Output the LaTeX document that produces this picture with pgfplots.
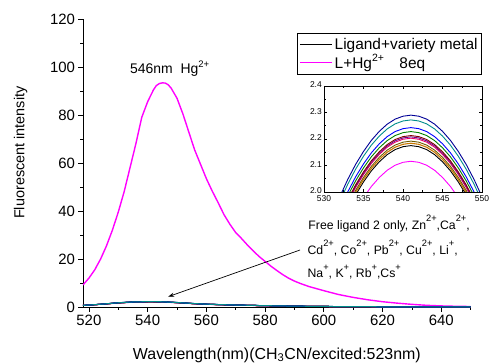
\documentclass[border=0pt]{standalone}
\usepackage{fontspec}
\setmainfont{Liberation Sans}
\usepackage{graphicx}
\usepackage{pgfplots}
\pgfplotsset{compat=1.18}
\usepackage{pgfplotstable}
\usetikzlibrary{arrows.meta}

\definecolor{cnavy}{RGB}{0,0,150}
\definecolor{cteal}{RGB}{0,140,140}
\definecolor{cblue}{RGB}{0,0,255}
\definecolor{cgreen}{RGB}{0,128,0}
\definecolor{cwine}{RGB}{128,0,0}
\definecolor{cpurple}{RGB}{110,0,140}
\definecolor{ccrimson}{RGB}{230,0,100}
\definecolor{colive}{RGB}{110,90,0}
\definecolor{corange}{RGB}{200,120,0}
\definecolor{cmag}{RGB}{255,0,255}

\newcommand{\su}[1]{\raisebox{0.42em}{\scalebox{0.68}{#1}}}
\newcommand{\suu}[1]{\raisebox{0.62em}{\scalebox{0.76}{#1}}}

\pgfplotstableread{
x y
518 9.2
520 12.0
522 15.5
524 20.0
526 25.5
528 32.0
530 39.5
532 48.0
534 58.0
536 68.0
538 79.0
540 85.5
542 90.5
543 92.3
544 93.1
545 93.4
546 93.3
547 92.6
548 91.2
550 87.0
552 80.5
554 73.0
556 65.5
558 59.5
560 53.5
562 48.3
564 43.5
566 38.5
568 34.5
570 31.0
572 28.5
574 25.8
576 23.3
578 21.0
580 19.0
582 17.0
584 15.2
586 13.5
588 12.0
590 10.8
592 9.8
595 8.5
600 6.8
605 5.2
610 4.0
615 3.0
620 2.2
625 1.6
630 1.1
635 0.7
640 0.45
645 0.3
650 0.2
}\hgdata

\pgfplotstableread{
x a b c d e f g h i j k
518 0.69 0.68 0.67 0.67 0.66 0.66 0.66 0.66 0.65 0.65 0.64
520 0.82 0.82 0.81 0.80 0.80 0.80 0.79 0.79 0.78 0.78 0.76
525 1.26 1.25 1.23 1.23 1.22 1.22 1.21 1.20 1.20 1.20 1.17
530 1.79 1.77 1.75 1.74 1.72 1.72 1.72 1.71 1.70 1.70 1.65
535 2.13 2.11 2.08 2.07 2.06 2.06 2.05 2.04 2.03 2.03 1.97
541 2.29 2.27 2.24 2.23 2.21 2.21 2.20 2.19 2.18 2.18 2.12
545 2.20 2.18 2.15 2.14 2.12 2.12 2.11 2.10 2.09 2.09 2.04
550 1.90 1.88 1.86 1.85 1.83 1.83 1.83 1.82 1.81 1.81 1.76
555 1.51 1.50 1.48 1.47 1.46 1.46 1.45 1.45 1.44 1.44 1.40
560 1.19 1.18 1.16 1.16 1.15 1.15 1.14 1.14 1.13 1.13 1.10
570 0.82 0.82 0.81 0.80 0.80 0.80 0.79 0.79 0.78 0.78 0.76
580 0.57 0.57 0.56 0.56 0.55 0.55 0.55 0.55 0.55 0.55 0.53
590 0.37 0.36 0.36 0.36 0.35 0.35 0.35 0.35 0.35 0.35 0.34
600 0.23 0.23 0.22 0.22 0.22 0.22 0.22 0.22 0.22 0.22 0.21
620 0.09 0.09 0.09 0.09 0.09 0.09 0.09 0.09 0.09 0.09 0.08
650 0.02 0.02 0.02 0.02 0.02 0.02 0.02 0.02 0.02 0.02 0.02
}\lowmain

\pgfplotstableread{
x a b c d e f g h i j k
531 1.910 1.892 1.863 1.848 1.833 1.828 1.823 1.812 1.804 1.795 1.736
532 1.982 1.964 1.935 1.920 1.905 1.900 1.895 1.884 1.876 1.867 1.808
533 2.047 2.029 2.000 1.985 1.970 1.965 1.960 1.949 1.941 1.932 1.873
534 2.104 2.086 2.057 2.042 2.027 2.022 2.017 2.006 1.998 1.989 1.930
535 2.153 2.135 2.106 2.091 2.076 2.071 2.066 2.055 2.047 2.038 1.979
536 2.195 2.177 2.148 2.133 2.118 2.113 2.108 2.097 2.089 2.080 2.021
537 2.229 2.211 2.182 2.167 2.152 2.147 2.142 2.131 2.123 2.114 2.055
538 2.256 2.238 2.209 2.194 2.179 2.174 2.169 2.158 2.150 2.141 2.082
539 2.275 2.257 2.228 2.213 2.198 2.193 2.188 2.177 2.169 2.160 2.101
540 2.286 2.268 2.239 2.224 2.209 2.204 2.199 2.188 2.180 2.171 2.112
541 2.290 2.272 2.243 2.228 2.213 2.208 2.203 2.192 2.184 2.175 2.116
542 2.286 2.268 2.239 2.224 2.209 2.204 2.199 2.188 2.180 2.171 2.112
543 2.275 2.257 2.228 2.213 2.198 2.193 2.188 2.177 2.169 2.160 2.101
544 2.256 2.238 2.209 2.194 2.179 2.174 2.169 2.158 2.150 2.141 2.082
545 2.229 2.211 2.182 2.167 2.152 2.147 2.142 2.131 2.123 2.114 2.055
546 2.195 2.177 2.148 2.133 2.118 2.113 2.108 2.097 2.089 2.080 2.021
547 2.153 2.135 2.106 2.091 2.076 2.071 2.066 2.055 2.047 2.038 1.979
548 2.104 2.086 2.057 2.042 2.027 2.022 2.017 2.006 1.998 1.989 1.930
549 2.047 2.029 2.000 1.985 1.970 1.965 1.960 1.949 1.941 1.932 1.873
550 1.982 1.964 1.935 1.920 1.905 1.900 1.895 1.884 1.876 1.867 1.808
551 1.910 1.892 1.863 1.848 1.833 1.828 1.823 1.812 1.804 1.795 1.736
}\insetdata

\begin{document}
\begin{tikzpicture}
\useasboundingbox (-83bp,-56bp) rectangle (406bp,307bp);
\begin{axis}[
  at={(0,0)}, anchor=south west, scale only axis,
  width=387.7bp, height=288bp,
  xmin=518, xmax=650, ymin=0, ymax=120,
  axis x line=bottom, axis y line=left,
  axis line style={-, line width=0.8bp},
  xtick={520,540,...,640}, minor xtick={530,550,...,650},
  ytick={0,20,...,120}, minor ytick={10,30,...,110},
  tick align=outside, major tick length=4.5bp, minor tick length=2.5bp,
  tick style={black, line width=0.7bp},
  ticklabel style={font=\fontsize{15}{15}\selectfont},
  /pgf/number format/assume math mode=true,
  xlabel={Wavelength(nm)(CH\textsubscript{3}CN/excited:523nm)},
  xlabel style={at={(axis description cs:0.5,-0.181)}, anchor=base, font=\fontsize{16}{16}\selectfont},
  ylabel={Fluorescent intensity},
  ylabel style={at={(axis description cs:-0.1509,0.536)}, anchor=base, font=\fontsize{14.5}{14.5}\selectfont},
  legend style={at={(1.029,0.951)}, anchor=north east, draw=black, line width=0.7bp,
    fill=white, font=\fontsize{15.5}{18}\selectfont, inner xsep=2bp, inner ysep=2.5bp,
    row sep=0bp, cells={anchor=west}},
  legend image code/.code={\draw[#1] (0bp,0bp) -- (32bp,0bp);},
]
\addplot[black, line width=1bp] table[x=x,y=j] {\lowmain};
\addlegendentry{Ligand+variety metal}
\addplot[cmag, line width=1.4bp] table[x=x,y=y] {\hgdata};
\addlegendentry{L+Hg\su{2+}\quad 8eq}
\addplot[cmag, line width=1bp, forget plot] table[x=x,y=k] {\lowmain};
\addplot[corange, line width=1bp, forget plot] table[x=x,y=i] {\lowmain};
\addplot[colive, line width=1bp, forget plot] table[x=x,y=h] {\lowmain};
\addplot[ccrimson, line width=1bp, forget plot] table[x=x,y=g] {\lowmain};
\addplot[cpurple, line width=1bp, forget plot] table[x=x,y=f] {\lowmain};
\addplot[cwine, line width=1bp, forget plot] table[x=x,y=e] {\lowmain};
\addplot[cgreen, line width=1bp, forget plot] table[x=x,y=d] {\lowmain};
\addplot[cblue, line width=1bp, forget plot] table[x=x,y=c] {\lowmain};
\addplot[cnavy, line width=1bp, forget plot] table[x=x,y=a] {\lowmain};
\addplot[cteal, line width=1bp, forget plot] table[x=x,y=b] {\lowmain};

\node[anchor=base west, inner sep=0pt, font=\fontsize{14}{14}\selectfont] at (axis cs:534.0,97.4) {546nm\ \ Hg\su{2+}};
\node[anchor=base west, inner sep=0pt, font=\fontsize{12.3}{12.3}\selectfont] at (axis cs:594.7,32.3) {Free ligand 2 only, Zn\suu{2+},Ca\suu{2+},};
\node[anchor=base west, inner sep=0pt, font=\fontsize{12.3}{12.3}\selectfont] at (axis cs:594.4,21.9) {Cd\suu{2+}, Co\suu{2+}, Pb\suu{2+}, Cu\suu{2+}, Li\suu{+},};
\node[anchor=base west, inner sep=0pt, font=\fontsize{12.3}{12.3}\selectfont] at (axis cs:594.4,12.1) {Na\suu{+}, K\suu{+}, Rb\suu{+},Cs\suu{+}};
\draw[-{Stealth[length=6bp,width=4bp]}, line width=0.7bp] (axis cs:591.9,23.75) -- (axis cs:547.0,4.3);
\end{axis}

\begin{axis}[
  at={(241bp,115bp)}, anchor=south west, scale only axis,
  width=158bp, height=106bp,
  xmin=530, xmax=550, ymin=2.0, ymax=2.4,
  xtick={530,535,...,550}, minor x tick num=1,
  ytick={2.0,2.1,2.2,2.3,2.4}, minor y tick num=1,
  tick align=inside, major tick length=3bp, minor tick length=1.8bp,
  tick style={black, line width=0.6bp},
  axis line style={line width=0.8bp},
  ticklabel style={font=\fontsize{8.5}{8.5}\selectfont},
  /pgf/number format/assume math mode=true,
  xticklabel style={inner sep=1bp, yshift=-2bp},
  yticklabel style={inner sep=2bp, yshift=1bp, /pgf/number format/fixed, /pgf/number format/fixed zerofill, /pgf/number format/precision=1},
]
\addplot[cmag, line width=0.9bp] table[x=x,y=k] {\insetdata};
\addplot[black, line width=0.9bp] table[x=x,y=j] {\insetdata};
\addplot[corange, line width=1.1bp] table[x=x,y=i] {\insetdata};
\addplot[colive, line width=0.9bp] table[x=x,y=h] {\insetdata};
\addplot[ccrimson, line width=0.9bp] table[x=x,y=g] {\insetdata};
\addplot[cpurple, line width=0.9bp] table[x=x,y=f] {\insetdata};
\addplot[cwine, line width=0.9bp] table[x=x,y=e] {\insetdata};
\addplot[cgreen, line width=0.9bp] table[x=x,y=d] {\insetdata};
\addplot[cblue, line width=0.9bp] table[x=x,y=c] {\insetdata};
\addplot[cteal, line width=0.9bp] table[x=x,y=b] {\insetdata};
\addplot[cnavy, line width=0.9bp] table[x=x,y=a] {\insetdata};
\end{axis}
\end{tikzpicture}
\end{document}
